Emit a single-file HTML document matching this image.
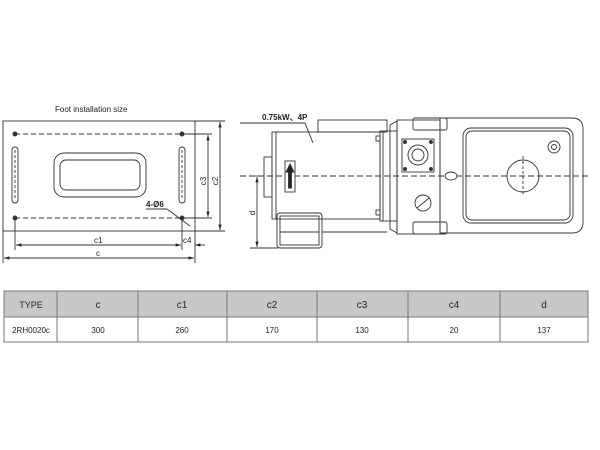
<!DOCTYPE html>
<html><head><meta charset="utf-8"><style>
html,body{margin:0;padding:0;background:#fff;width:600px;height:450px;overflow:hidden}
svg{display:block}
text{font-family:"Liberation Sans",Arial,sans-serif;fill:#222}
</style></head><body>
<svg width="600" height="450" viewBox="0 0 600 450" xmlns="http://www.w3.org/2000/svg">
<defs>
<marker id="a" viewBox="0 0 10 10" refX="10" refY="5" markerWidth="6" markerHeight="6" orient="auto-start-reverse"><path d="M0,2 L10,5 L0,8 z" fill="#222"/></marker>
</defs>
<g stroke="#333" fill="none" stroke-width="0.9">
<!-- Left drawing -->
<text x="55" y="112" font-size="8" stroke="none">Foot installation size</text>
<rect x="3" y="121" width="192" height="110"/>
<line x1="3" y1="231" x2="3" y2="263"/>
<line x1="195" y1="231" x2="195" y2="263"/>
<line x1="15" y1="134" x2="190" y2="134" stroke-dasharray="5,3"/>
<line x1="15" y1="218" x2="190" y2="218" stroke-dasharray="5,3"/>
<circle cx="15" cy="134" r="2" fill="#333"/><circle cx="182" cy="134" r="2" fill="#333"/>
<circle cx="15" cy="218" r="2" fill="#333"/><circle cx="182" cy="218" r="2" fill="#333"/>
<rect x="12" y="147" width="6" height="56" rx="3"/>
<rect x="179" y="147" width="6" height="56" rx="3"/>
<line x1="15" y1="150" x2="15" y2="200" stroke-dasharray="3,2"/>
<line x1="182" y1="150" x2="182" y2="200" stroke-dasharray="3,2"/>
<rect x="54" y="153" width="92" height="44" rx="10"/>
<rect x="60" y="160" width="80" height="30" rx="6"/>
<line x1="15" y1="220" x2="15" y2="250"/>
<line x1="182" y1="220" x2="182" y2="250"/>
<line x1="195" y1="121" x2="225" y2="121"/>
<line x1="195" y1="231" x2="225" y2="231"/>
<line x1="185" y1="134" x2="212" y2="134"/>
<line x1="185" y1="218" x2="212" y2="218"/>
<line x1="208" y1="135" x2="208" y2="217" marker-start="url(#a)" marker-end="url(#a)"/>
<line x1="220" y1="122" x2="220" y2="230" marker-start="url(#a)" marker-end="url(#a)"/>
<line x1="16" y1="245" x2="181" y2="245" marker-start="url(#a)" marker-end="url(#a)"/>
<line x1="172" y1="245" x2="181" y2="245"/>
<line x1="195" y1="245" x2="205" y2="245" marker-start="url(#a)"/>
<line x1="4" y1="258" x2="194" y2="258" marker-start="url(#a)" marker-end="url(#a)"/>
<text x="94" y="243" font-size="8" stroke="none">c1</text>
<text x="183" y="243" font-size="8" stroke="none">c4</text>
<text x="96" y="256" font-size="8" stroke="none">c</text>
<text x="206" y="181" font-size="8" stroke="none" transform="rotate(-90 206 181)" text-anchor="middle">c3</text>
<text x="218" y="181" font-size="8" stroke="none" transform="rotate(-90 218 181)" text-anchor="middle">c2</text>
<text x="146" y="207" font-size="8" font-weight="bold" stroke="none">4-Ø6</text>
<line x1="146" y1="209" x2="167" y2="209"/>
<line x1="167" y1="209" x2="190" y2="226"/>

<!-- Right drawing -->
<line x1="240" y1="176" x2="590" y2="176" stroke-dasharray="6,3"/>
<text x="262" y="120" font-size="8" font-weight="bold" stroke="none">0.75kW、4P</text>
<line x1="240" y1="123" x2="305" y2="123"/>
<line x1="305" y1="123" x2="313" y2="143"/>
<rect x="318" y="120" width="69" height="12"/>
<rect x="272" y="132" width="108" height="87"/>
<line x1="276" y1="132" x2="276" y2="219"/>
<rect x="264" y="157" width="8" height="40"/>
<rect x="277" y="213" width="45" height="35" rx="3"/>
<rect x="280" y="216" width="39" height="29"/>
<line x1="280" y1="232" x2="319" y2="232"/>
<line x1="322" y1="232" x2="387" y2="232"/>
<rect x="285" y="161" width="10" height="31" fill="#fff"/>
<path d="M290,164 L294,172 L291.5,172 L291.5,188 L288.5,188 L288.5,172 L286,172 Z" fill="#222"/>
<rect x="380" y="131" width="17" height="90"/>
<line x1="383" y1="131" x2="383" y2="221"/>
<rect x="376" y="136" width="4" height="5"/><rect x="376" y="210" width="4" height="5"/>
<path d="M390,125 L397,121 L397,233 L390,229 Z"/>
<rect x="397" y="120" width="43" height="114"/>
<rect x="413" y="118" width="34" height="12" rx="2"/>
<rect x="413" y="222" width="34" height="12" rx="2"/>
<rect x="402" y="139" width="32" height="33"/>
<circle cx="418" cy="155" r="10"/><circle cx="418" cy="155" r="6"/>
<circle cx="405" cy="142" r="1.5" fill="#333"/><circle cx="431" cy="142" r="1.5" fill="#333"/>
<circle cx="405" cy="169" r="1.5" fill="#333"/><circle cx="431" cy="169" r="1.5" fill="#333"/>
<circle cx="423" cy="203" r="8"/>
<line x1="417" y1="208" x2="429" y2="198"/>
<path d="M440,118 L572,118 Q583,118 583,129 L583,222 Q583,233 572,233 L440,233 Z"/>
<rect x="463" y="128" width="110" height="95" rx="8"/>
<rect x="466" y="131" width="104" height="89" rx="6"/>
<circle cx="523" cy="176" r="16"/>
<line x1="523" y1="156" x2="523" y2="196" stroke-dasharray="3,2"/>
<circle cx="554" cy="147" r="6"/><circle cx="554" cy="147" r="2.5"/>
<ellipse cx="451" cy="176" rx="6" ry="4" fill="#fff"/>
<line x1="250" y1="176" x2="262" y2="176"/>
<line x1="250" y1="248" x2="278" y2="248"/>
<line x1="257" y1="177" x2="257" y2="247" marker-start="url(#a)" marker-end="url(#a)"/>
<text x="255" y="213" font-size="8" stroke="none" transform="rotate(-90 255 213)" text-anchor="middle">d</text>
</g>

<!-- Table -->
<rect x="4" y="291" width="584" height="26" fill="#c8c8c8"/>
<g stroke="#777" stroke-width="1" fill="none">
<rect x="4" y="291" width="584" height="51"/>
<line x1="4" y1="317" x2="588" y2="317"/>
<line x1="57" y1="291" x2="57" y2="342"/>
<line x1="138" y1="291" x2="138" y2="342"/>
<line x1="227" y1="291" x2="227" y2="342"/>
<line x1="317" y1="291" x2="317" y2="342"/>
<line x1="408" y1="291" x2="408" y2="342"/>
<line x1="500" y1="291" x2="500" y2="342"/>
</g>
<g text-anchor="middle" font-size="9">
<text x="31" y="308">TYPE</text>
<text x="98" y="308" font-size="10">c</text>
<text x="182" y="308" font-size="10">c1</text>
<text x="272" y="308" font-size="10">c2</text>
<text x="362" y="308" font-size="10">c3</text>
<text x="454" y="308" font-size="10">c4</text>
<text x="544" y="308" font-size="10">d</text>
<text x="31" y="333" font-size="8">2RH0020c</text>
<text x="98" y="333" font-size="8">300</text>
<text x="182" y="333" font-size="8">260</text>
<text x="272" y="333" font-size="8">170</text>
<text x="362" y="333" font-size="8">130</text>
<text x="454" y="333" font-size="8">20</text>
<text x="544" y="333" font-size="8">137</text>
</g>
</svg>
</body></html>
